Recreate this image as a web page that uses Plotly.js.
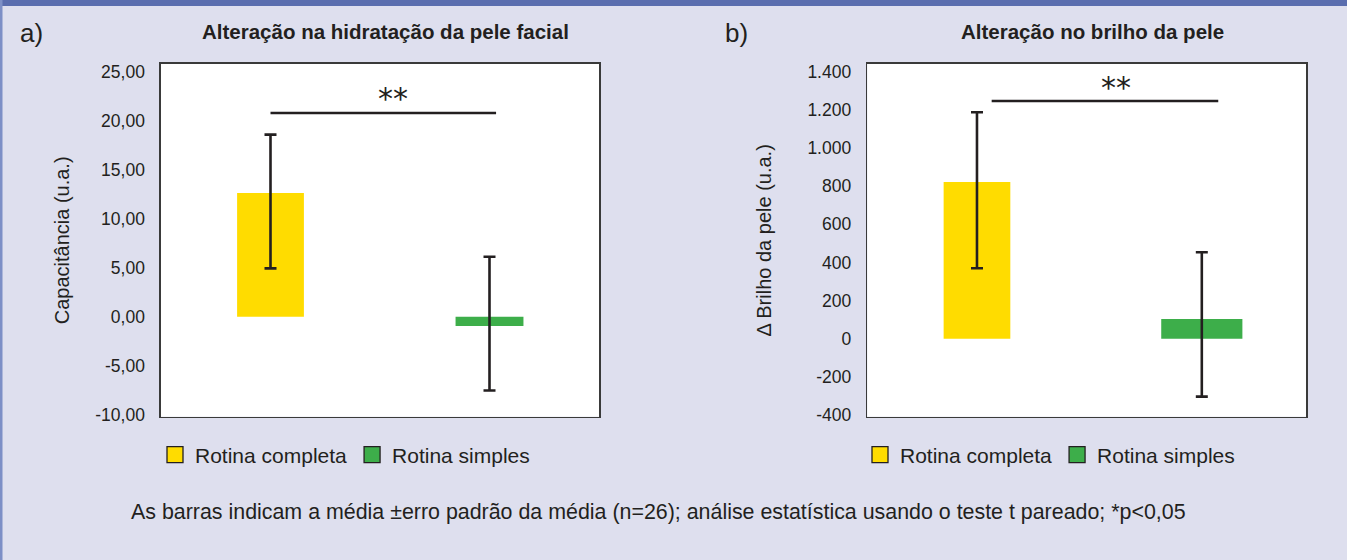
<!DOCTYPE html>
<html>
<head>
<meta charset="utf-8">
<script src="https://cdn.plot.ly/plotly-3.0.1.min.js"></script>
<style>
  html, body { margin: 0; padding: 0; background: #DEDFEE; }
  #chart { width: 1347px; height: 560px; }
</style>
</head>
<body>
<div id="chart"></div>
<script>
// ---------- data ----------
const groups = ['Rotina completa', 'Rotina simples'];

// a) Alteração na hidratação da pele facial (Capacitância, u.a.)
const hidrMean = [12.64, -0.93];
const hidrErrPlus = [5.95, 7.06];
const hidrErrMinus = [7.70, 6.59];

// b) Alteração no brilho da pele (Δ Brilho, u.a.)
const brilhoMean = [821, 103];
const brilhoErrPlus = [366, 350];
const brilhoErrMinus = [452, 407];

// significance bars (**) height for each panel
const sigLevel = [20.8, 1246];
const sigLabel = ['**', '**'];

// tick labels
const hidrTickVals = [-10, -5, 0, 5, 10, 15, 20, 25];
const hidrTickText = ['-10,00', '-5,00', '0,00', '5,00', '10,00', '15,00', '20,00', '25,00'];
const brilhoTickVals = [-400, -200, 0, 200, 400, 600, 800, 1000, 1200, 1400];
const brilhoTickText = ['-400', '-200', '0', '200', '400', '600', '800', '1.000', '1.200', '1.400'];

const titles = ['Alteração na hidratação da pele facial', 'Alteração no brilho da pele'];
const yTitles = ['Capacitância (u.a.)', 'Δ Brilho da pele (u.a.)'];
const panelLabels = ['a)', 'b)'];
const footnote = 'As barras indicam a média ±erro padrão da média (n=26); análise estatística usando o teste t pareado; *p&lt;0,05';

// ---------- styling ----------
const W = 1347, H = 560;
const px = x => x / W;
const py = y => 1 - y / H;
const FONT = 'Liberation Sans, Arial, Helvetica, sans-serif';
const INK = '#231F20';
const colors = ['#FFDC00', '#3DAE4A'];
const errStyle = { color: INK, thickness: 2.6, width: 6 };

function barTrace(i, means, plus, minus, xa, ya, width, offset) {
  const t = {
    type: 'bar',
    name: groups[i],
    x: [groups[i]],
    y: [means[i]],
    width: [width],
    xaxis: xa, yaxis: ya,
    showlegend: false,
    marker: { color: colors[i], line: { width: 0 } },
    error_y: Object.assign({ type: 'data', symmetric: false, array: [plus[i]], arrayminus: [minus[i]] }, errStyle),
    hoverinfo: 'skip'
  };
  if (offset !== undefined) t.offset = [offset];
  return t;
}

// legend entries (square keys with dark outline, as in the reference)
function legendKey(i, xa, ya, legend) {
  return {
    type: 'scatter', mode: 'markers',
    name: groups[i],
    x: [null], y: [null],
    xaxis: xa, yaxis: ya,
    legend: legend,
    showlegend: true,
    marker: { symbol: 'square', size: 17, color: colors[i], line: { color: INK, width: 1.3 } },
    hoverinfo: 'skip'
  };
}

const data = [
  barTrace(0, hidrMean, hidrErrPlus, hidrErrMinus, 'x', 'y', 0.305),
  barTrace(1, hidrMean, hidrErrPlus, hidrErrMinus, 'x', 'y', 0.31),
  barTrace(0, brilhoMean, brilhoErrPlus, brilhoErrMinus, 'x2', 'y2', 0.304),
  barTrace(1, brilhoMean, brilhoErrPlus, brilhoErrMinus, 'x2', 'y2', 0.37, -0.16),
  legendKey(0, 'x', 'y', 'legend'),
  legendKey(1, 'x', 'y', 'legend'),
  legendKey(0, 'x2', 'y2', 'legend2'),
  legendKey(1, 'x2', 'y2', 'legend2')
];

const yDomain = [py(416.7), py(64)];
const axisLine = { showline: true, mirror: true, linecolor: '#3A3A3A', linewidth: 1.6, showgrid: false, zeroline: false };

const xCommon = Object.assign({}, axisLine, {
  type: 'category', categoryorder: 'array', categoryarray: groups,
  range: [-0.5, 1.5], showticklabels: false, ticks: '', fixedrange: true
});

const yCommon = Object.assign({}, axisLine, {
  ticks: 'outside', ticklen: 11, tickcolor: 'rgba(0,0,0,0)',
  tickfont: { family: FONT, size: 17.5, color: INK },
  fixedrange: true
});

const legendCommon = {
  orientation: 'h', yanchor: 'middle', xanchor: 'left',
  bgcolor: 'rgba(0,0,0,0)', font: { family: FONT, size: 21, color: INK },
  traceorder: 'normal', itemclick: false, itemdoubleclick: false, itemsizing: 'trace'
};

const layout = {
  width: W, height: H,
  margin: { l: 0, r: 0, t: 0, b: 0 },
  paper_bgcolor: '#DEDFEE',
  plot_bgcolor: '#FFFFFF',
  barmode: 'overlay',
  font: { family: FONT, color: INK },
  xaxis: Object.assign({}, xCommon, { domain: [px(161), px(599)], anchor: 'y' }),
  yaxis: Object.assign({}, yCommon, {
    domain: yDomain, anchor: 'x', range: [-10.2, 25.8],
    tickvals: hidrTickVals, ticktext: hidrTickText,
    title: { text: yTitles[0], font: { family: FONT, size: 20, color: INK }, standoff: 20 }
  }),
  xaxis2: Object.assign({}, xCommon, { domain: [px(867.3), px(1306)], anchor: 'y2' }),
  yaxis2: Object.assign({}, yCommon, {
    domain: yDomain, anchor: 'x2', range: [-409, 1440],
    tickvals: brilhoTickVals, ticktext: brilhoTickText,
    title: { text: yTitles[1], font: { family: FONT, size: 20, color: INK }, standoff: 30 }
  }),
  legend: Object.assign({}, legendCommon, { x: px(155), y: py(455) }),
  legend2: Object.assign({}, legendCommon, { x: px(860), y: py(455) }),
  shapes: [
    // top band and left edge of the figure frame
    { type: 'rect', xref: 'paper', yref: 'paper', x0: 0, x1: 1, y0: py(6), y1: 1, fillcolor: '#5A6DAE', line: { width: 0 }, layer: 'above' },
    { type: 'rect', xref: 'paper', yref: 'paper', x0: 0, x1: px(2.5), y0: 0, y1: 1, fillcolor: '#7D8FC6', line: { width: 0 }, layer: 'above' },
    // significance bars
    { type: 'line', xref: 'x', yref: 'y', x0: 0, x1: 1.03, y0: sigLevel[0], y1: sigLevel[0], line: { color: INK, width: 2.7 } },
    { type: 'line', xref: 'x2', yref: 'y2', x0: 0.067, x1: 1.10, y0: sigLevel[1], y1: sigLevel[1], line: { color: INK, width: 2.7 } }
  ],
  annotations: [
    { text: panelLabels[0], xref: 'paper', yref: 'paper', x: px(18), y: py(33), xanchor: 'left', yanchor: 'middle', showarrow: false, font: { family: FONT, size: 26, color: INK } },
    { text: panelLabels[1], xref: 'paper', yref: 'paper', x: px(723), y: py(33), xanchor: 'left', yanchor: 'middle', showarrow: false, font: { family: FONT, size: 26, color: INK } },
    { text: '<b>' + titles[0] + '</b>', xref: 'paper', yref: 'paper', x: px(385.3), y: py(31), xanchor: 'center', yanchor: 'middle', showarrow: false, font: { family: FONT, size: 20.5, color: INK } },
    { text: '<b>' + titles[1] + '</b>', xref: 'paper', yref: 'paper', x: px(1092), y: py(31), xanchor: 'center', yanchor: 'middle', showarrow: false, font: { family: FONT, size: 20.5, color: INK } },
    { text: sigLabel[0], xref: 'x', yref: 'y', x: 0.56, y: sigLevel[0], xanchor: 'center', yanchor: 'bottom', yshift: -5, showarrow: false, font: { family: 'DejaVu Sans, sans-serif', size: 30, color: INK } },
    { text: sigLabel[1], xref: 'x2', yref: 'y2', x: 0.634, y: sigLevel[1], xanchor: 'center', yanchor: 'bottom', yshift: -6, showarrow: false, font: { family: 'DejaVu Sans, sans-serif', size: 30, color: INK } },
    { text: footnote, xref: 'paper', yref: 'paper', x: px(129), y: py(512), xanchor: 'left', yanchor: 'middle', showarrow: false, font: { family: FONT, size: 21.4, color: INK } }
  ]
};

Plotly.newPlot('chart', data, layout, { displayModeBar: false, staticPlot: true });
</script>
</body>
</html>
